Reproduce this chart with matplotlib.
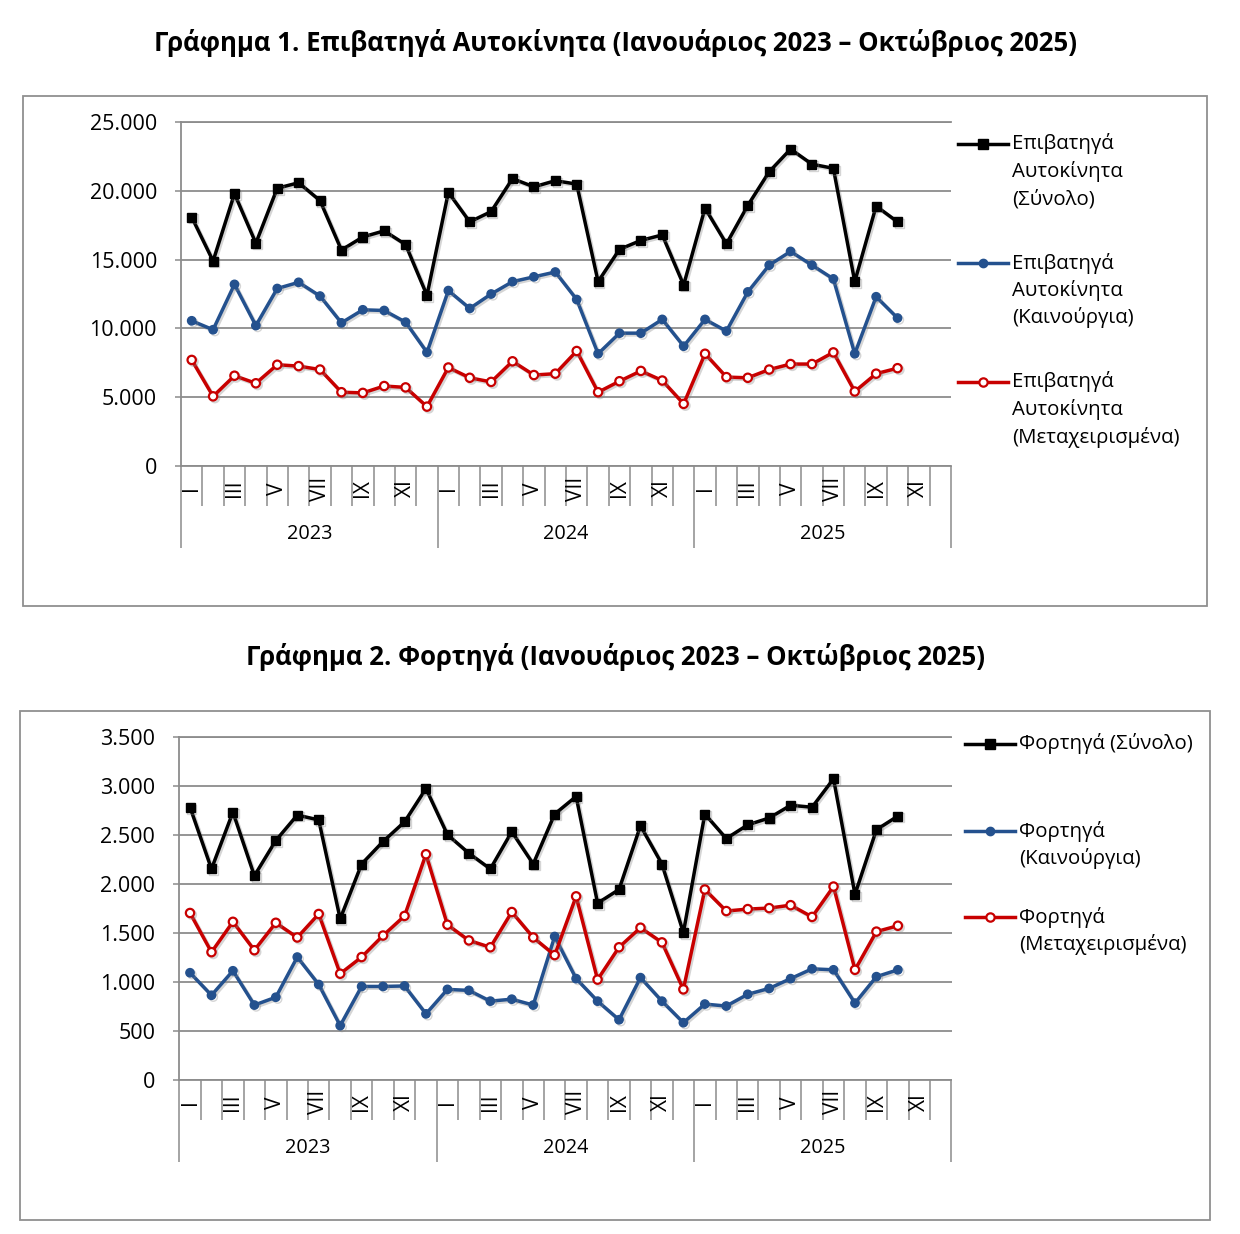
import matplotlib
matplotlib.use("Agg")
import numpy as np
import matplotlib.pyplot as plt
from matplotlib.lines import Line2D
from matplotlib.patches import Rectangle
from matplotlib.ticker import FuncFormatter
import matplotlib.patheffects as pe

plt.rcParams['font.family'] = ['Open Sans', 'DejaVu Sans']

# ---------------- data ----------------
years = ['2023', '2024', '2025']
month_labels = ['I', '', 'III', '', 'V', '', 'VII', '', 'IX', '', 'XI', '']

title1 = "Γράφημα 1. Επιβατηγά Αυτοκίνητα (Ιανουάριος 2023 – Οκτώβριος 2025)"
title2 = "Γράφημα 2. Φορτηγά (Ιανουάριος 2023 – Οκτώβριος 2025)"

cars_labels = ["Επιβατηγά\nΑυτοκίνητα\n(Σύνολο)",
               "Επιβατηγά\nΑυτοκίνητα\n(Καινούργια)",
               "Επιβατηγά\nΑυτοκίνητα\n(Μεταχειρισμένα)"]
trucks_labels = ["Φορτηγά (Σύνολο)",
                 "Φορτηγά\n(Καινούργια)",
                 "Φορτηγά\n(Μεταχειρισμένα)"]

cars_total = [18100, 14900, 19800, 16200, 20200, 20600, 19300, 15700, 16650, 17100, 16100, 12400,
              19900, 17750, 18500, 20900, 20300, 20750, 20500, 13400, 15750, 16400, 16800, 13150,
              18750, 16150, 18950, 21400, 23050, 21950, 21650, 13400, 18900, 17750]
cars_new = [10550, 9900, 13200, 10200, 12900, 13350, 12350, 10400, 11350, 11300, 10450, 8250,
            12750, 11450, 12500, 13400, 13750, 14100, 12100, 8150, 9650, 9650, 10650, 8700,
            10650, 9800, 12650, 14600, 15600, 14600, 13600, 8150, 12300, 10750]
cars_used = [7700, 5050, 6550, 6000, 7350, 7250, 7000, 5350, 5300, 5800, 5700, 4300,
             7150, 6400, 6100, 7600, 6600, 6700, 8350, 5350, 6150, 6900, 6200, 4500,
             8150, 6450, 6400, 7000, 7400, 7400, 8250, 5400, 6700, 7100]

trucks_total = [2780, 2150, 2730, 2080, 2440, 2700, 2650, 1640, 2200, 2430, 2630, 2970,
                2500, 2310, 2150, 2530, 2200, 2710, 2890, 1800, 1940, 2590, 2200, 1500,
                2710, 2460, 2600, 2670, 2800, 2780, 3070, 1890, 2550, 2690]
trucks_new = [1090, 860, 1110, 760, 840, 1250, 970, 550, 950, 950, 955, 670,
              920, 910, 800, 820, 760, 1460, 1030, 800, 610, 1040, 800, 580,
              770, 750, 870, 930, 1030, 1130, 1120, 780, 1050, 1120]
trucks_used = [1700, 1300, 1610, 1320, 1600, 1450, 1690, 1080, 1250, 1470, 1670, 2300,
               1580, 1420, 1350, 1710, 1450, 1270, 1870, 1020, 1350, 1550, 1400, 920,
               1940, 1720, 1740, 1750, 1780, 1660, 1970, 1120, 1510, 1570]

# ---------------- styles ----------------
GRAY = '#8c8c8c'
BLACK = '#000000'
BLUE = '#24518e'
RED = '#c80000'
styles = [
    dict(color=BLACK, marker='s', ms=6.5, mfc=BLACK, mec=BLACK, lw=2.5),
    dict(color=BLUE, marker='o', ms=6, mfc=BLUE, mec=BLUE, lw=2.5),
    dict(color=RED, marker='o', ms=6, mfc='white', mec=RED, mew=1.6, lw=2.5),
]
shadow = [pe.SimpleLineShadow(offset=(1.3, -1.3), shadow_color='#888888', alpha=0.35), pe.Normal()]

W, H = 1240, 1234
fig = plt.figure(figsize=(W / 100, H / 100), dpi=100)


def fx(x):
    return x / W


def fy(y):
    return 1 - y / H


def thousands(v, pos):
    return f"{int(round(v)):,}".replace(",", ".")


def panel(box, axpx, title, title_y, series, labels, ymax, ystep, leg):
    x0, y0, x1, y1 = box
    fig.patches.append(Rectangle((fx(x0), fy(y1)), fx(x1) - fx(x0), fy(y0) - fy(y1),
                                 transform=fig.transFigure, fill=False,
                                 edgecolor='#909090', lw=1.3))
    fig.text(fx(615), fy(title_y), title, ha='center', va='center',
             fontsize=18.5, fontweight='bold')
    l, t, r, b = axpx
    ax = fig.add_axes([fx(l), fy(b), fx(r) - fx(l), fy(t) - fy(b)])
    for vals, st in zip(series, styles):
        x = np.arange(len(vals)) + 0.5
        ax.plot(x, vals, path_effects=shadow, zorder=3, **st)
    ax.set_xlim(0, 36)
    ax.set_ylim(0, ymax)
    ax.set_yticks(np.arange(0, ymax + 1, ystep))
    ax.yaxis.set_major_formatter(FuncFormatter(thousands))
    ax.yaxis.grid(True, color=GRAY, lw=1.3)
    ax.set_axisbelow(True)
    for s in ['left', 'bottom', 'top']:
        ax.spines[s].set_color(GRAY)
        ax.spines[s].set_linewidth(1.3)
    ax.spines['right'].set_visible(False)
    ax.set_xticks([0, 12, 24, 36])
    ax.set_xticks([i for i in range(37) if i % 12 != 0], minor=True)
    ax.tick_params(axis='x', which='major', length=59, width=1.1, color=GRAY,
                   labelbottom=False, direction='out')
    ax.tick_params(axis='x', which='minor', length=28.8, width=1.1, color=GRAY,
                   labelbottom=False, direction='out')
    ax.tick_params(axis='y', length=4.3, width=1.1, color=GRAY, pad=13, labelsize=15.5)
    for j, yr in enumerate(years):
        for m, ml in enumerate(month_labels):
            if ml:
                ax.annotate(ml, xy=(j * 12 + m + 0.5, 0), xycoords=('data', 'axes fraction'),
                            xytext=(0, -16.4), textcoords='offset points', rotation=90,
                            ha='center', va='center', fontsize=15, annotation_clip=False)
        ax.annotate(yr, xy=(j * 12 + 6, 0), xycoords=('data', 'axes fraction'),
                    xytext=(0, -49), textcoords='offset points', ha='center', va='center',
                    fontsize=14.3, annotation_clip=False)
    # legend
    lx0, lx1, tx, ys, dy = leg
    for lab, st, yv in zip(labels, styles, ys):
        line = Line2D([fx(lx0), fx((lx0 + lx1) / 2), fx(lx1)], [fy(yv)] * 3,
                      transform=fig.transFigure, markevery=[1], **st)
        fig.add_artist(line)
        for k, part in enumerate(lab.split('\n')):
            fig.text(fx(tx), fy(yv + k * dy), part, ha='left', va='center', fontsize=14.7)
    return ax


panel((23, 96, 1207, 606), (181, 122.3, 951, 465.7), title1, 43,
      [cars_total, cars_new, cars_used], cars_labels, 25000, 5000,
      (958, 1008, 1012, [144, 263, 382], 27.5))
panel((20, 711, 1210, 1220), (179.3, 736.7, 951.5, 1079.5), title2, 657,
      [trucks_total, trucks_new, trucks_used], trucks_labels, 3500, 500,
      (965, 1015, 1019, [744, 831, 917], 27.5))

fig.savefig('out.png', dpi=100)
